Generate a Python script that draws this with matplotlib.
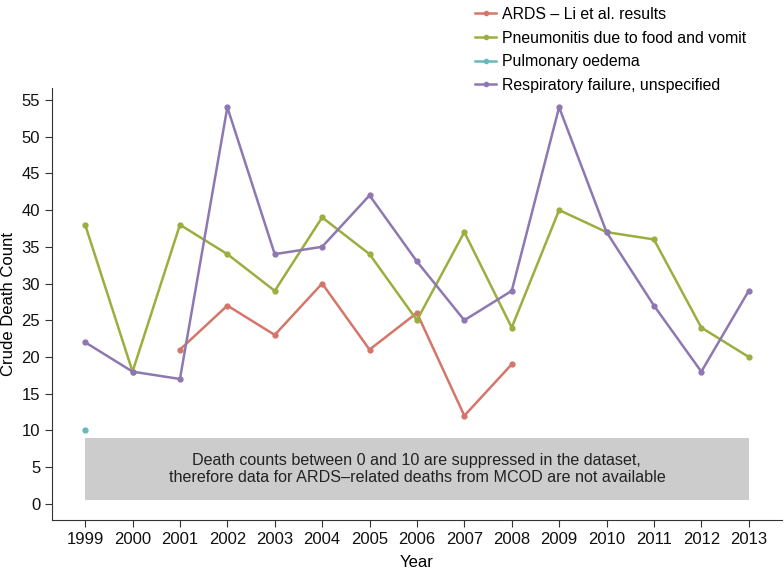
import numpy as np
import matplotlib
matplotlib.use('Agg')
import matplotlib.pyplot as plt
from matplotlib.lines import Line2D

plt.rcParams['font.family'] = ['Liberation Sans', 'DejaVu Sans']

years = list(range(1999, 2014))

ards_years = [2001, 2002, 2003, 2004, 2005, 2006, 2007, 2008]
ards = [21, 27, 23, 30, 21, 26, 12, 19]

pneumonitis = [38, 18, 38, 34, 29, 39, 34, 25, 37, 24, 40, 37, 36, 24, 20]

oedema_years = [1999]
oedema = [10]

resp_failure = [22, 18, 17, 54, 34, 35, 42, 33, 25, 29, 54, 37, 27, 18, 29]

labels = ['ARDS \u2013 Li et al. results', 'Pneumonitis due to food and vomit',
          'Pulmonary oedema', 'Respiratory failure, unspecified']
colors = ['#d5766a', '#9bae3f', '#68b9b9', '#8e78b2']

fig = plt.figure(figsize=(7.84, 5.72), dpi=100)
ax = fig.add_axes([0.0663, 0.0909, 0.931, 0.755])

ax.fill_between([1999, 2013], 0.5, 9, color='#cccccc', lw=0, zorder=1)
ax.text(2006, 4.75, 'Death counts between 0 and 10 are suppressed in the dataset,\n'
        'therefore data for ARDS\u2013related deaths from MCOD are not available',
        ha='center', va='center', fontsize=11.6, color='#222222', linespacing=1.15)

ax.plot(ards_years, ards, color=colors[0], lw=1.8, marker='o', ms=3.5, zorder=3)
ax.plot(years, pneumonitis, color=colors[1], lw=1.8, marker='o', ms=3.5, zorder=3)
ax.plot(oedema_years, oedema, color=colors[2], lw=1.8, marker='o', ms=3.5, zorder=3)
ax.plot(years, resp_failure, color=colors[3], lw=1.8, marker='o', ms=3.5, zorder=3)

ax.set_xlim(1998.3, 2013.7)
ax.set_ylim(-2.2, 56.6)
ax.set_xticks(years)
ax.set_yticks(range(0, 56, 5))
ax.tick_params(labelsize=12, length=5, color='#333333', labelcolor='#111111')
ax.spines['top'].set_visible(False)
ax.spines['right'].set_visible(False)
ax.spines['left'].set_color('#333333')
ax.spines['bottom'].set_color('#333333')
ax.set_xlabel('Year', fontsize=12, labelpad=6)
ax.set_ylabel('Crude Death Count', fontsize=12, labelpad=4)

handles = [Line2D([0], [0], color=c, lw=1.8, marker='o', ms=3) for c in colors]
fig.legend(handles, labels, loc='upper left', bbox_to_anchor=(0.588, 1.013),
           frameon=False, fontsize=11.4, handlelength=1.3, handletextpad=0.4,
           labelspacing=0.55)

plt.savefig('out.png')
